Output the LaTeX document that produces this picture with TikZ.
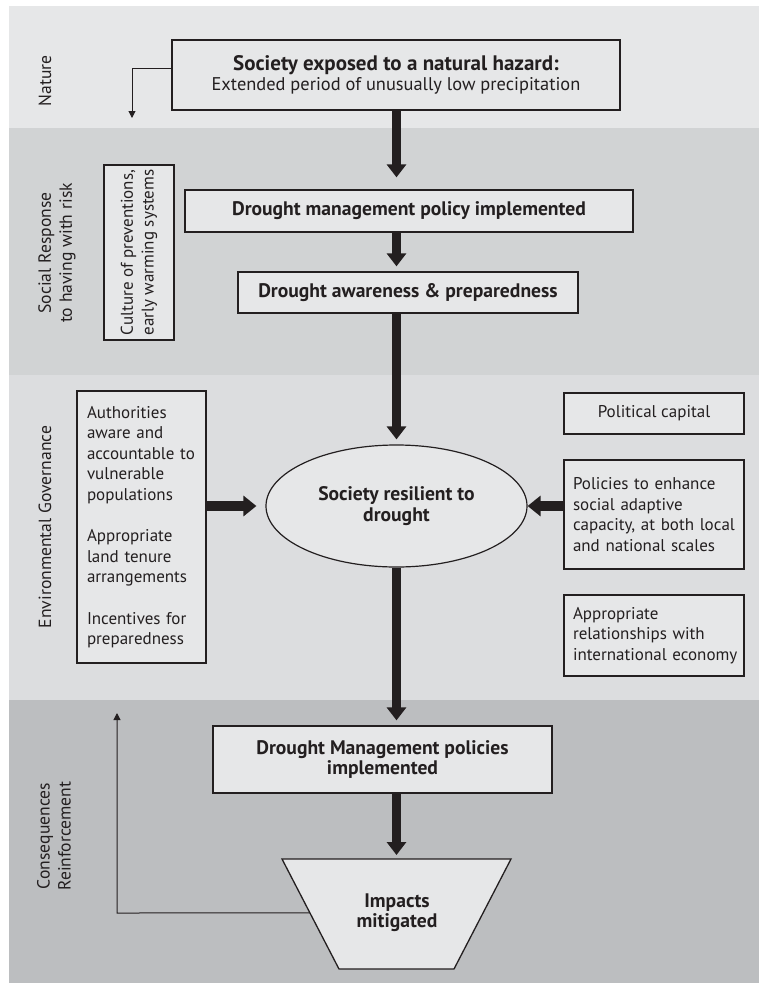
\documentclass[tikz,border=0pt]{standalone}
\usepackage{fontspec}
\setmainfont{PT Sans}
\usetikzlibrary{arrows.meta,shapes.geometric,calc}
\definecolor{bandA}{HTML}{E6E7E8}
\definecolor{bandB}{HTML}{D1D3D4}
\definecolor{bandC}{HTML}{DCDDDF}
\definecolor{bandD}{HTML}{BCBEC0}
\definecolor{boxfill}{HTML}{E6E7E8}
\definecolor{ink}{HTML}{231F20}
\newcommand\bigbold{\fontsize{19.6}{20.4}\selectfont\bfseries}
\tikzset{
  boxline/.style={draw=ink, line width=1.3pt},
  box/.style={boxline, fill=boxfill, inner sep=0pt, align=center},
  bigv/.style={draw=ink, line width=8.5pt, -{Triangle[width=19pt,length=13pt]}},
  bigh/.style={draw=ink, line width=10pt, -{Triangle[width=20pt,length=13pt]}},
  thinarr/.style={draw=ink, line width=1pt, -{Triangle[width=7pt,length=7pt]}},
  sidelabel/.style={rotate=90, align=center, inner sep=0pt, font=\fontsize{17.6}{21}\selectfont}
}
\begin{document}
\begin{tikzpicture}[x=1pt,y=-1pt, font=\fontsize{17}{20.6}\selectfont, text=ink]
\useasboundingbox (0,0) rectangle (759,983);
% bands
\fill[bandA] (9,6) rectangle (759,128);
\fill[bandB] (9,128) rectangle (759,375);
\fill[bandC] (9,375) rectangle (759,700);
\fill[bandD] (9,700) rectangle (759,983);
% side labels
\node[sidelabel] (lnat) at (45,81) {Nature};
\node[sidelabel] (lsoc) at (57,253) {Social Response\\to having with risk};
\node[sidelabel] (lenv) at (45,527) {Environmental Governance};
\node[sidelabel] (lcon) at (54,836) {Consequences\\Reinforcement};
% boxes
\node[box, minimum width=448pt, minimum height=70pt, font=\fontsize{18.4}{20.4}\selectfont] (top) at (396,75)
  {{\fontsize{21}{20.4}\selectfont\bfseries Society exposed to a natural hazard:}\\Extended period of unusually low precipitation};
\node[box, minimum width=448pt, minimum height=42pt, font=\bigbold] (dmp) at (409,211)
  {Drought management policy implemented};
\node[box, minimum width=340pt, minimum height=41pt, font=\bigbold] (awr) at (408,292.5)
  {Drought awareness \& preparedness};
\node[box, rotate=90, minimum width=175pt, minimum height=70pt] (cult) at (139,252.5)
  {Culture of preventions,\\early warming systems};
\node[box, minimum width=129pt, minimum height=272pt, text width=109pt, align=left] (auth) at (141.5,527)
  {Authorities\\aware and\\\mbox{accountable to}\\vulnerable\\populations\\[20.6pt]Appropriate\\land tenure\\arrangements\\[20.6pt]\mbox{Incentives for}\\preparedness};
\node[ellipse, draw=ink, line width=1.2pt, fill=boxfill, minimum width=261pt, minimum height=122pt, inner sep=0pt, align=center, font=\bigbold] (soc) at (396.5,506)
  {Society resilient to\\drought};
\node[box, minimum width=180pt, minimum height=41pt] (pol) at (654,413.5) {Political capital};
\node[box, minimum width=180pt, minimum height=109pt, text width=162pt, align=left] (enh) at (654,514.5)
  {Policies to enhance\\social adaptive\\\mbox{capacity, at both local}\\and national scales};
\node[box, minimum width=180pt, minimum height=81pt, text width=162pt, align=left] (econ) at (654,635.5)
  {Appropriate\\relationships with\\\mbox{international economy}};
\node[box, minimum width=339pt, minimum height=67pt, font=\bigbold] (dmp2) at (382.5,759.5)
  {Drought Management policies\\implemented};
% trapezoid
\coordinate (ta) at (282,859);
\coordinate (tb) at (511,859);
\coordinate (tc) at (454,969);
\coordinate (td) at (339,969);
\draw[boxline, fill=boxfill] (ta) -- (tb) -- (tc) -- (td) -- cycle;
\node[align=center, inner sep=0pt, font=\bigbold] (imp) at (397,913) {Impacts\\mitigated};
% big arrows
\draw[bigv, shorten >=12pt] (soc |- top.south) -- (soc |- dmp.north);
\draw[bigv, shorten >=5pt] (soc |- dmp.south) -- (soc |- awr.north);
\draw[bigv, shorten >=5pt] (soc |- awr.south) -- (soc.north);
\draw[bigv, shorten >=5pt] (soc.south) -- (soc |- dmp2.north);
\draw[bigv, shorten >=4pt] (soc |- dmp2.south) -- (soc |- ta);
\draw[bigh, shorten >=9pt] (auth.east |- soc.west) -- (soc.west);
\draw[bigh] (enh.west |- soc.east) -- (soc.east);
% thin arrows
\coordinate (n1) at (132,68);
\coordinate (n2) at (132,118);
\draw[thinarr] (top.west |- n1) -- (n1) -- (n2);
\coordinate (f0) at ($(ta)!0.49!(td)$);
\coordinate (f1) at (117,913);
\coordinate (f2) at (117,713);
\draw[thinarr] (f0) -- (f1) -- (f2);
\end{tikzpicture}
\end{document}
